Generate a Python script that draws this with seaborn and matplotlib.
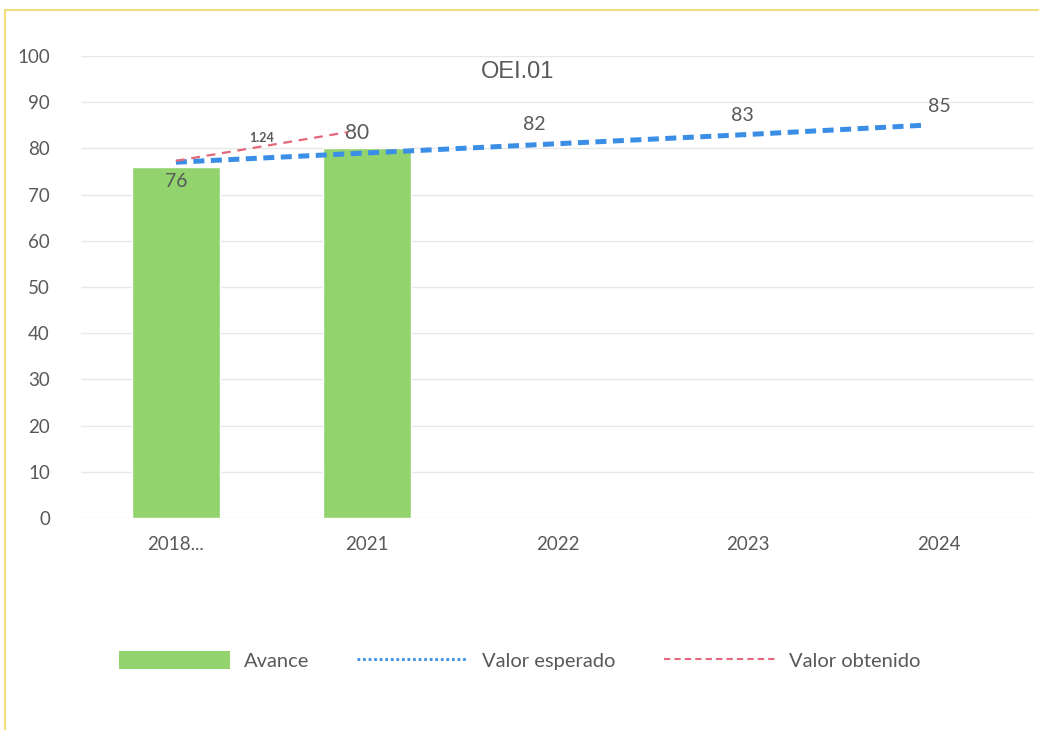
import numpy as np
import matplotlib
matplotlib.use('Agg')
import matplotlib.pyplot as plt
import seaborn as sns
import pandas as pd
from matplotlib.lines import Line2D
from matplotlib.patches import Patch, Rectangle

# Datos
categorias = ['2018...', '2021', '2022', '2023', '2024']
avance_anios = ['2018...', '2021']
avance = [76, 80]
valor_esperado = [77, 79, 81, 83, 85]
etiquetas_esperado = ['82', '83', '85']
valor_obtenido = [77.3, 83.5]
tasa = '1.24'
titulo = 'OEI.01'

sns.set_theme(style='white')
plt.rcParams['font.family'] = ['Lato', 'DejaVu Sans']

verde = '#92d36e'
azul = '#3a8ee6'
rojo = '#e5677c'
gris = '#595959'

fig = plt.figure(figsize=(10.39, 7.30), dpi=100)
ax = fig.add_axes([0.0775, 0.2904, 0.918, 0.633])

df = pd.DataFrame({'anio': avance_anios, 'avance': avance})
sns.barplot(data=df, x='anio', y='avance', order=categorias, color=verde,
            width=0.46, saturation=1, ax=ax, zorder=2)

x = np.arange(len(categorias))
ax.plot(x[:-1].tolist() + [3.92], valor_esperado, color=azul, lw=3.6, ls=(0, (2.2, 1.3)), zorder=3)
ax.plot(x[:2] * 0.9, valor_obtenido, color=rojo, lw=1.6, ls=(0, (4, 3)), zorder=4)

# Etiquetas de datos
ax.text(0, avance[0] - 1.3, str(avance[0]), ha='center', va='top', fontsize=14, color=gris)
ax.text(0.95, avance[1] + 1.2, str(avance[1]), ha='center', va='bottom', fontsize=15, color=gris)
desplaz = [-0.12, -0.03, 0.0]
for i, lab, d in zip(x[2:], etiquetas_esperado, desplaz):
    ax.text(i + d, valor_esperado[i] + 2.3, lab, ha='center', va='bottom',
            fontsize=14, color=gris)
ax.text(0.45, 81, tasa, ha='center', va='bottom', fontsize=9, fontweight='bold', color=gris)

ax.text(0.458, 0.99, titulo, transform=ax.transAxes, ha='center', va='top',
        fontsize=17, color=gris, family='Liberation Sans')

ax.set_ylim(0, 100)
ax.set_xlim(-0.5, 4.5)
ax.set_yticks(range(0, 101, 10))
ax.set_xlabel('')
ax.set_ylabel('')
ax.grid(axis='y', color='#e8e8e8', lw=1)
ax.set_axisbelow(True)
sns.despine(ax=ax, left=True, bottom=True)
ax.tick_params(axis='both', length=0, labelsize=13.5, labelcolor=gris)
ax.tick_params(axis='x', pad=13)
ax.tick_params(axis='y', pad=22)

handles = [
    Patch(facecolor=verde, edgecolor='none'),
    Line2D([0], [0], color=azul, lw=2, ls=(0, (1, 1))),
    Line2D([0], [0], color=rojo, lw=1.5, ls=(0, (3, 2))),
]
fig.legend(handles, ['Avance', 'Valor esperado', 'Valor obtenido'], loc='center',
           bbox_to_anchor=(0.5, 0.095), ncol=3, frameon=False, fontsize=14.5,
           handlelength=5.5, handleheight=1.0, handletextpad=0.7, columnspacing=2.4,
           labelcolor=gris)

# Borde amarillo
fig.patches.append(Rectangle((0.005, -0.01), 1.1, 0.996, transform=fig.transFigure,
                             fill=False, edgecolor='#f3e07a', lw=1.5))

fig.savefig('out.png', dpi=100)
